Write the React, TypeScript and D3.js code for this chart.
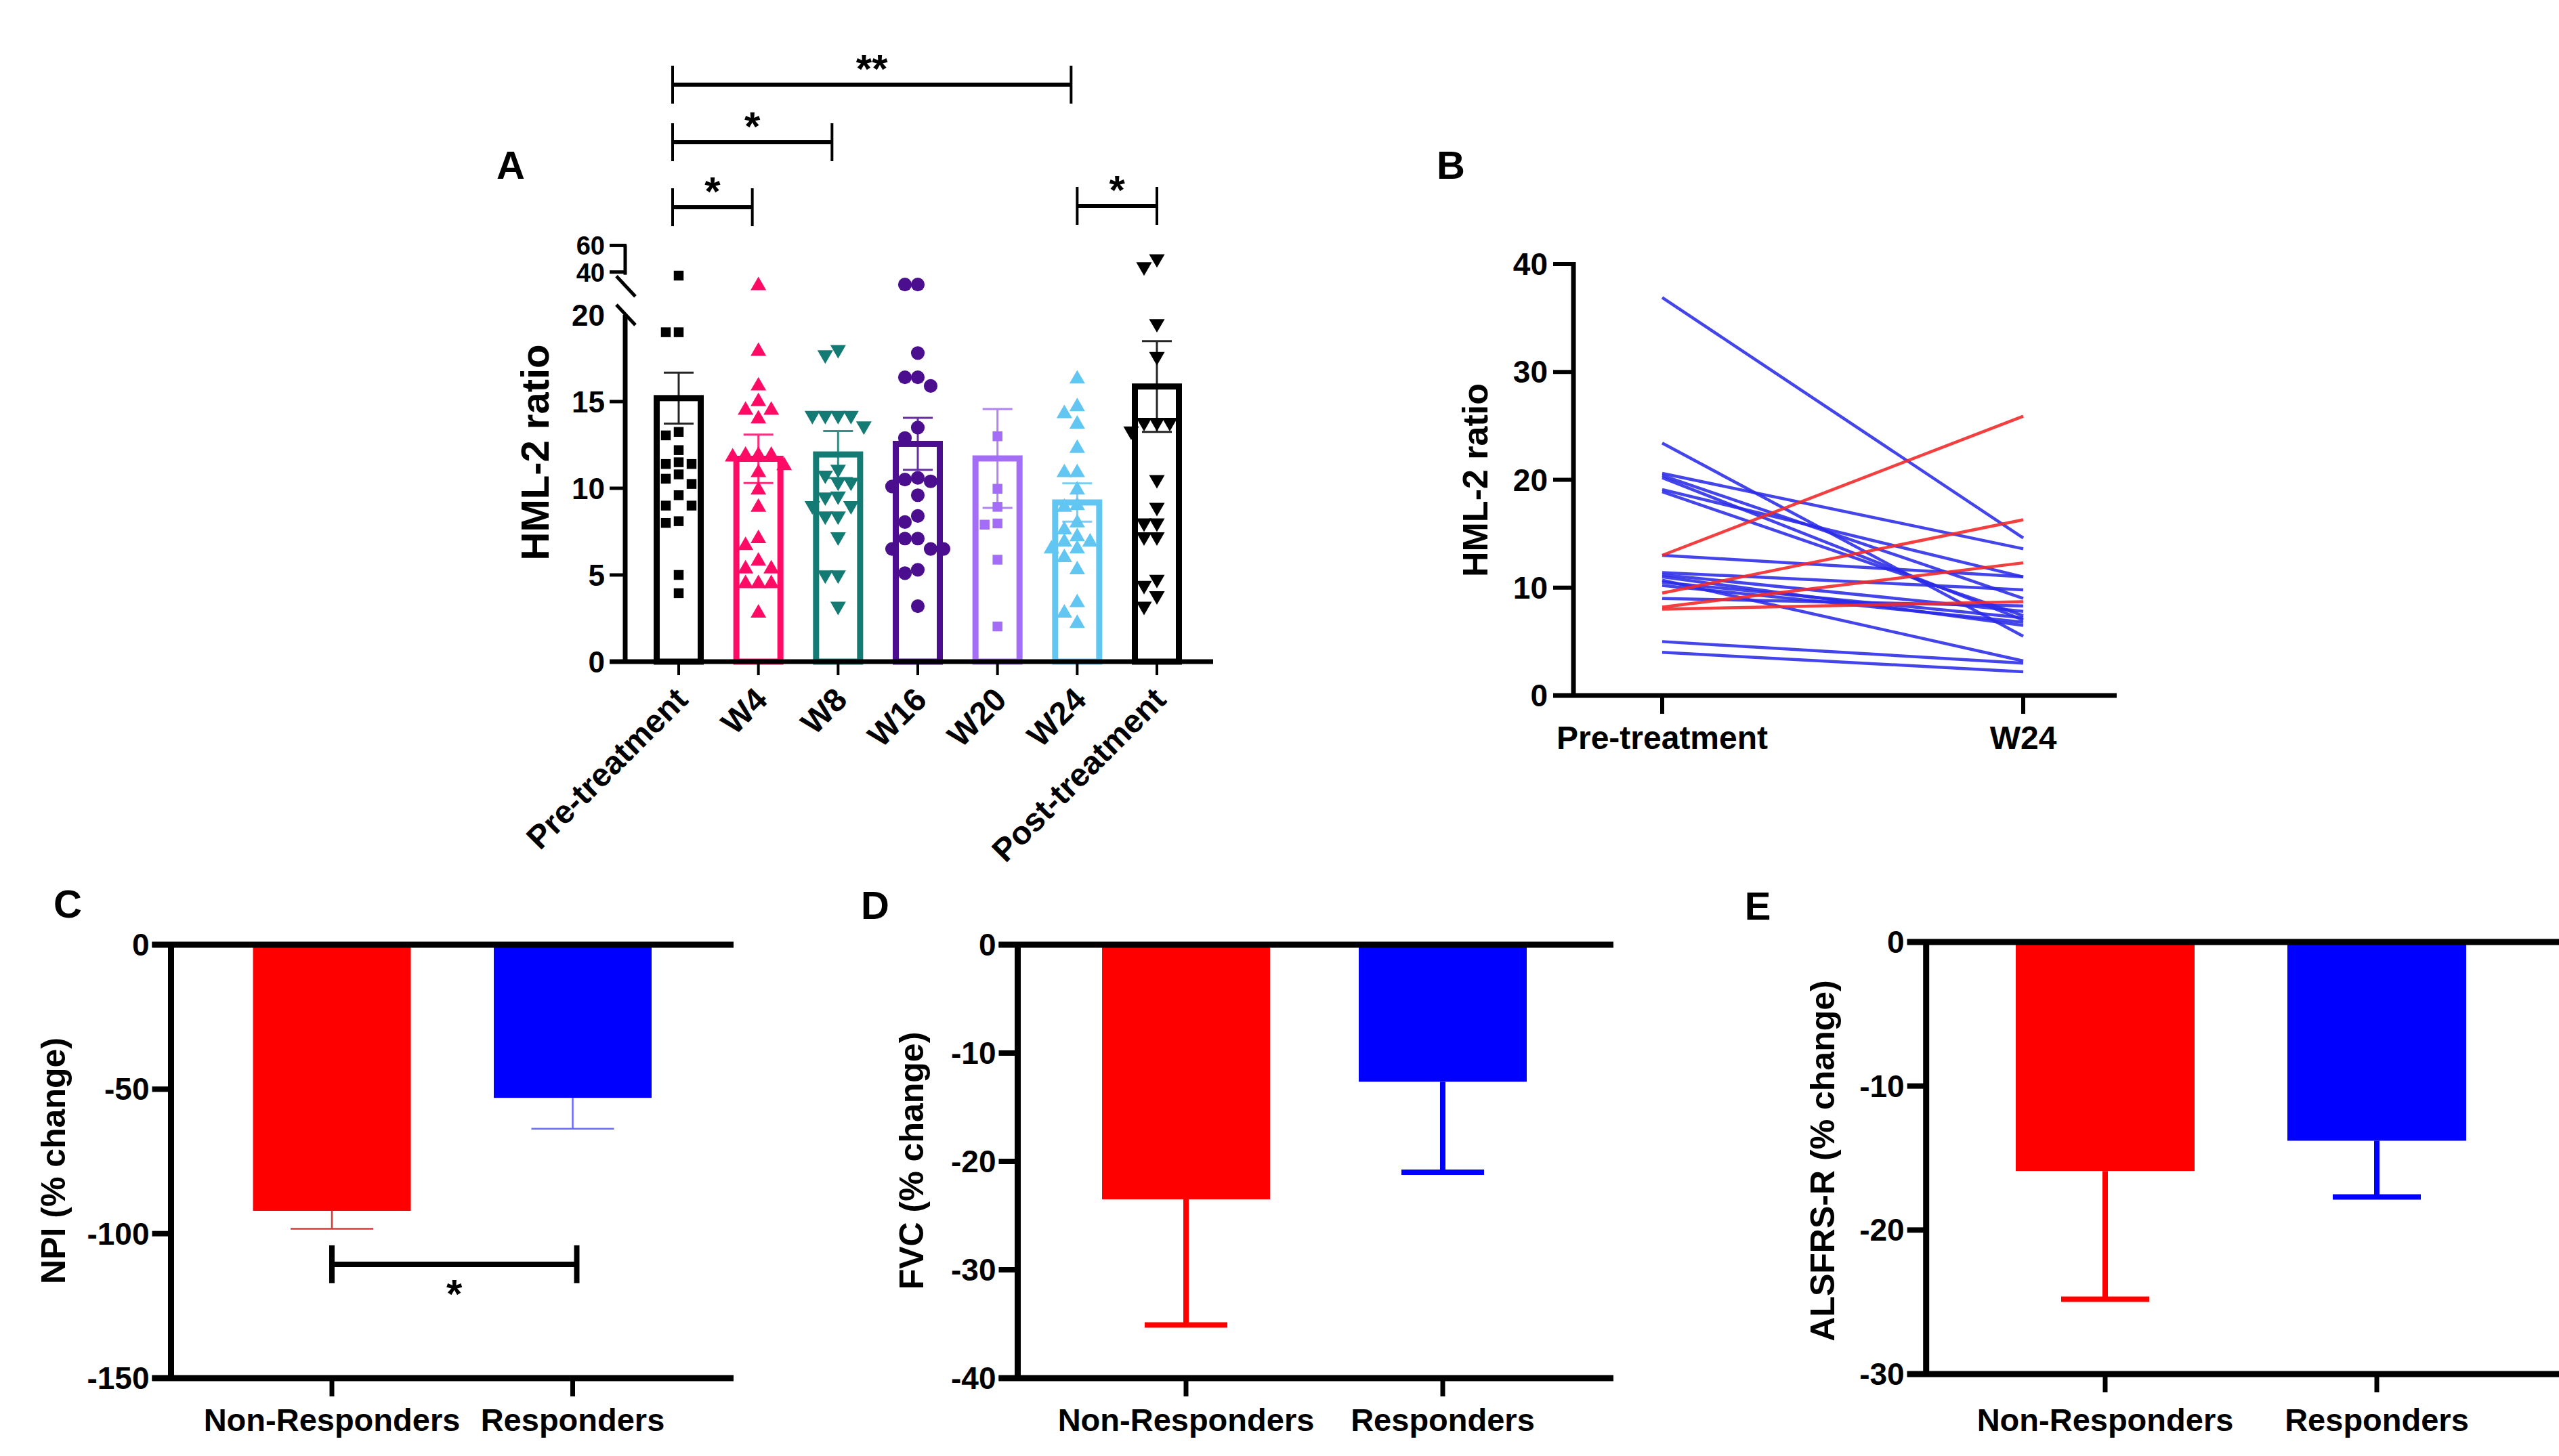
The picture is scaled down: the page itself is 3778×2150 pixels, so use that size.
import React from "react";
import * as d3 from "d3";

const W = 3778;
const H = 2150;
const FONT = "'Liberation Sans', Arial, Helvetica, sans-serif";

// ---------- Panel A data ----------
const groupsA = ["Pre-treatment", "W4", "W8", "W16", "W20", "W24", "Post-treatment"];
const meansA = [15.2, 11.7, 11.95, 12.56, 11.72, 9.18, 15.87];
const semA = [1.47, 1.4, 1.35, 1.5, 2.85, 1.1, 2.62];
const ptsPre = [37.3, 19.0, 19.0, 13.25, 13.05, 12.2, 11.5, 11.4, 11.4, 10.8, 10.55, 10.25, 9.6, 9.0, 9.0, 8.1, 8.0, 5.0, 3.95];
const ptsW4 = [29.8, 17.9, 15.9, 15.0, 14.5, 14.5, 14.0, 11.9, 11.9, 11.8, 11.9, 11.3, 10.9, 9.9, 8.9, 7.1, 6.7, 5.8, 5.35, 5.35, 4.5, 4.5, 4.5, 2.8];
const ptsW8 = [18.0, 17.7, 14.2, 14.2, 14.2, 14.2, 13.6, 11.1, 10.76, 10.35, 10.35, 9.55, 9.5, 9.0, 9.0, 8.4, 8.4, 7.2, 5.0, 5.0, 3.2];
const ptsW16 = [30.6, 30.6, 17.8, 16.4, 16.4, 15.9, 13.5, 12.9, 10.6, 10.5, 10.4, 10.1, 9.6, 8.4, 8.05, 7.1, 7.1, 6.5, 6.5, 6.5, 5.3, 5.1, 3.2];
const ptsW20 = [13.0, 9.97, 8.93, 7.97, 7.9, 5.88, 2.03];
const ptsW24 = [16.3, 14.7, 14.3, 13.7, 12.3, 10.9, 10.9, 9.9, 9.0, 8.9, 8.0, 7.6, 7.2, 6.9, 6.9, 6.5, 6.5, 6.0, 5.3, 3.4, 2.8, 2.2];
const ptsPost = [50, 44, 19.5, 17.6, 13.8, 13.8, 13.8, 13.3, 10.5, 8.9, 8.0, 8.0, 7.2, 7.2, 4.75, 4.4, 3.8, 3.2];
const pointsA = [ptsPre, ptsW4, ptsW8, ptsW16, ptsW20, ptsW24, ptsPost];
const colorsA = ["#000000", "#ff0a64", "#137b73", "#4a0e8f", "#a36ef5", "#62c6f2", "#000000"];
const shapesA = ["square", "triUp", "triDown", "circle", "square", "triUp", "triDown"];
const yTicksALower = [0, 5, 10, 15];
const yTicksAUpper = [40, 60];
const sigA = [
  { a: 0, b: 1, label: "*", level: 0 },
  { a: 0, b: 2, label: "*", level: 1 },
  { a: 0, b: 5, label: "**", level: 2 },
  { a: 5, b: 6, label: "*", level: 0 },
];

// ---------- Panel B data ----------
const timesB = ["Pre-treatment", "W24"];
const bluePre = [36.9, 23.4, 20.6, 20.4, 20.2, 19.1, 18.9, 13.0, 11.4, 11.2, 11.0, 10.7, 10.5, 10.2, 9.0, 5.0, 4.0];
const blueW24 = [14.6, 5.5, 13.6, 9.0, 7.0, 11.0, 7.4, 11.0, 9.8, 7.8, 6.5, 3.2, 7.2, 6.8, 8.3, 3.0, 2.2];
const redPre = [13.0, 9.5, 8.2, 8.0];
const redW24 = [25.9, 16.3, 12.3, 8.7];
const yTicksB = [0, 10, 20, 30, 40];

// ---------- Panels C, D, E data ----------
const groupsCDE = ["Non-Responders", "Responders"];
const npiMean = [-92.1, -53.0];
const npiErr = [-98.3, -63.7];
const fvcMean = [-23.5, -12.65];
const fvcErr = [-35.1, -21.0];
const alsMean = [-15.9, -13.8];
const alsErr = [-24.8, -17.7];
const ticksC = [0, -50, -100, -150];
const ticksD = [0, -10, -20, -30, -40];
const ticksE = [0, -10, -20, -30];
const barColors = ["#ff0000", "#0000ff"];
const errColorsThin = ["#d43a3a", "#6a6aff"];

function symbolPath(shape: string, size: number) {
  const t =
    shape === "square" ? d3.symbolSquare : shape === "circle" ? d3.symbolCircle : d3.symbolTriangle;
  return d3.symbol().type(t).size(size)() as string;
}

function swarm(values: number[], yfn: (v: number) => number, step: number, minDist: number) {
  const items = values.map((v) => ({ v, y: yfn(v), dx: 0 })).sort((a, b) => a.y - b.y);
  const placed: { y: number; dx: number }[] = [];
  for (const it of items) {
    for (let k = 0; k < 14; k++) {
      const m = Math.ceil(k / 2) * (k % 2 === 1 ? -1 : 1);
      const dx = m * step;
      const ok = placed.every((p) => (p.dx - dx) ** 2 + (p.y - it.y) ** 2 >= minDist * minDist);
      if (ok) {
        it.dx = dx;
        break;
      }
    }
    placed.push({ y: it.y, dx: it.dx });
  }
  return items;
}

function PanelA() {
  const x = d3.scalePoint<string>().domain(groupsA).range([1002, 1708]);
  const yL = d3.scaleLinear().domain([0, 20]).range([977, 465]);
  const yU = d3.scaleLinear().domain([20, 60]).range([441, 362.4]);
  const yv = (v: number) => (v <= 20 ? yL(v) : yU(v));
  const axisX = 923;
  const barW = 65;
  const sizes: Record<string, number> = { square: 210, triUp: 230, triDown: 230, circle: 320 };
  const bracketY = [306, 210, 125];
  return (
    <g>
      <text x={754} y={264} fontSize={58} fontWeight="bold" textAnchor="middle" fontFamily={FONT}>A</text>
      {/* bars */}
      {groupsA.map((g, i) => (
        <rect key={g} x={(x(g) as number) - barW / 2} y={yL(meansA[i])} width={barW}
          height={yL(0) - yL(meansA[i])} fill="white" stroke={colorsA[i]} strokeWidth={9} />
      ))}
      {/* error bars */}
      {groupsA.map((g, i) => {
        const cx = x(g) as number;
        const lo = yv(meansA[i] - semA[i]);
        const hi = yv(meansA[i] + semA[i]);
        return (
          <g key={g} stroke={colorsA[i]} strokeWidth={3} opacity={0.85}>
            <line x1={cx} x2={cx} y1={lo} y2={hi} />
            <line x1={cx - 22} x2={cx + 22} y1={hi} y2={hi} />
            <line x1={cx - 22} x2={cx + 22} y1={lo} y2={lo} />
          </g>
        );
      })}
      {/* points */}
      {groupsA.map((g, i) => {
        const cx = x(g) as number;
        const pts = swarm(pointsA[i], yv, 19, 17);
        const p = symbolPath(shapesA[i], sizes[shapesA[i]]);
        return (
          <g key={g} fill={colorsA[i]}>
            {pts.map((pt, j) => (
              <path key={j} d={p}
                transform={`translate(${cx + pt.dx},${pt.y})${shapesA[i] === "triDown" ? " rotate(180)" : ""}`} />
            ))}
          </g>
        );
      })}
      {/* y axis lower */}
      <line x1={axisX} x2={axisX} y1={yL(0) + 3} y2={yL(20)} stroke="black" strokeWidth={7} />
      {yTicksALower.map((t) => (
        <g key={t}>
          <line x1={axisX - 23} x2={axisX} y1={yL(t)} y2={yL(t)} stroke="black" strokeWidth={5} />
          <text x={axisX - 30} y={yL(t) + 16} fontSize={44} fontWeight="bold" textAnchor="end" fontFamily={FONT}>{t}</text>
        </g>
      ))}
      <text x={axisX - 30} y={yL(20) + 16} fontSize={44} fontWeight="bold" textAnchor="end" fontFamily={FONT}>20</text>
      {/* break marks */}
      <line x1={axisX - 13} x2={axisX + 15} y1={yL(20) - 15} y2={yL(20) + 15} stroke="black" strokeWidth={5} />
      <line x1={axisX - 13} x2={axisX + 15} y1={yU(40) + 6} y2={yU(40) + 36} stroke="black" strokeWidth={5} />
      {/* y axis upper */}
      <line x1={axisX} x2={axisX} y1={yU(60)} y2={yU(40) + 4} stroke="black" strokeWidth={5} />
      {yTicksAUpper.map((t) => (
        <g key={t}>
          <line x1={axisX - 23} x2={axisX + 2} y1={yU(t)} y2={yU(t)} stroke="black" strokeWidth={5} />
          <text x={axisX - 30} y={yU(t) + 14} fontSize={38} fontWeight="bold" textAnchor="end" fontFamily={FONT}>{t}</text>
        </g>
      ))}
      {/* x axis */}
      <line x1={axisX - 23} x2={1791} y1={yL(0)} y2={yL(0)} stroke="black" strokeWidth={7} />
      {groupsA.map((g) => (
        <g key={g}>
          <line x1={x(g) as number} x2={x(g) as number} y1={yL(0)} y2={yL(0) + 20} stroke="black" strokeWidth={4} />
          <text transform={`translate(${(x(g) as number) + 16},${1036}) rotate(-45)`} fontSize={48}
            fontWeight="bold" textAnchor="end" fontFamily={FONT}>{g}</text>
        </g>
      ))}
      <text transform={`translate(810,668) rotate(-90)`} fontSize={58} fontWeight="bold" textAnchor="middle" fontFamily={FONT}>HML-2 ratio</text>
      {/* significance */}
      {sigA.map((s, k) => {
        const x1 = (x(groupsA[s.a]) as number) - (s.a === 5 ? 0 : 9);
        const x2 = (x(groupsA[s.b]) as number) - (s.b === 6 ? 0 : 9);
        const yb = bracketY[s.level] - (s.a === 5 ? 2 : 0);
        return (
          <g key={k}>
            <line x1={x1} x2={x2} y1={yb} y2={yb} stroke="black" strokeWidth={6} />
            <line x1={x1} x2={x1} y1={yb - 28} y2={yb + 28} stroke="black" strokeWidth={4} />
            <line x1={x2} x2={x2} y1={yb - 28} y2={yb + 28} stroke="black" strokeWidth={4} />
            <text x={(x1 + x2) / 2} y={yb - 3} fontSize={60} fontWeight="bold" textAnchor="middle" fontFamily={FONT}>{s.label}</text>
          </g>
        );
      })}
    </g>
  );
}

function PanelB() {
  const x = d3.scalePoint<string>().domain(timesB).range([2454, 2987]);
  const y = d3.scaleLinear().domain([0, 40]).range([1027, 390]);
  const axisX = 2323;
  const line = d3.line<number>().x((_, i) => x(timesB[i]) as number).y((v) => y(v));
  return (
    <g>
      <text x={2142} y={264} fontSize={58} fontWeight="bold" textAnchor="middle" fontFamily={FONT}>B</text>
      {bluePre.map((v, i) => (
        <path key={"b" + i} d={line([v, blueW24[i]]) as string} stroke="#2a2ae8" strokeWidth={4.5} fill="none" opacity={0.88} />
      ))}
      {redPre.map((v, i) => (
        <path key={"r" + i} d={line([v, redW24[i]]) as string} stroke="#f22a2a" strokeWidth={4.5} fill="none" opacity={0.9} />
      ))}
      <line x1={axisX} x2={axisX} y1={y(0) + 3} y2={y(40) - 3} stroke="black" strokeWidth={7} />
      {yTicksB.map((t) => (
        <g key={t}>
          <line x1={axisX - 30} x2={axisX} y1={y(t)} y2={y(t)} stroke="black" strokeWidth={6} />
          <text x={axisX - 38} y={y(t) + 16} fontSize={46} fontWeight="bold" textAnchor="end" fontFamily={FONT}>{t}</text>
        </g>
      ))}
      <line x1={axisX - 30} x2={3125} y1={y(0)} y2={y(0)} stroke="black" strokeWidth={7} />
      {timesB.map((tm) => (
        <g key={tm}>
          <line x1={x(tm) as number} x2={x(tm) as number} y1={y(0)} y2={y(0) + 27} stroke="black" strokeWidth={6} />
          <text x={x(tm) as number} y={1106} fontSize={48} fontWeight="bold" textAnchor="middle" fontFamily={FONT}>{tm}</text>
        </g>
      ))}
      <text transform={`translate(2196,709) rotate(-90)`} fontSize={52} fontWeight="bold" textAnchor="middle" fontFamily={FONT}>HML-2 ratio</text>
    </g>
  );
}

type BarPanelProps = {
  label: string; labelX: number; labelY: number;
  axisX: number; right: number; yTop: number; yBot: number; minV: number;
  ticks: number[]; centers: [number, number]; barW: number;
  means: number[]; errs: number[]; errW: number; capW: number; thin: boolean;
  title: string; titleX: number; children?: React.ReactNode;
};

function BarPanel(p: BarPanelProps) {
  const x = d3.scalePoint<string>().domain(groupsCDE).range(p.centers);
  const y = d3.scaleLinear().domain([p.minV, 0]).range([p.yBot, p.yTop]);
  return (
    <g>
      <text x={p.labelX} y={p.labelY} fontSize={58} fontWeight="bold" textAnchor="middle" fontFamily={FONT}>{p.label}</text>
      {groupsCDE.map((g, i) => {
        const cx = x(g) as number;
        return (
          <g key={g}>
            <rect x={cx - p.barW / 2} y={y(0)} width={p.barW} height={y(p.means[i]) - y(0)} fill={barColors[i]} />
            <line x1={cx} x2={cx} y1={y(p.means[i])} y2={y(p.errs[i])}
              stroke={p.thin ? errColorsThin[i] : barColors[i]} strokeWidth={p.errW} />
            <line x1={cx - p.capW / 2} x2={cx + p.capW / 2} y1={y(p.errs[i])} y2={y(p.errs[i])}
              stroke={p.thin ? errColorsThin[i] : barColors[i]} strokeWidth={p.errW} />
          </g>
        );
      })}
      <line x1={p.axisX} x2={p.axisX} y1={y(0) - 4} y2={y(p.minV) + 4} stroke="black" strokeWidth={9} />
      <line x1={p.axisX - 28} x2={p.right} y1={y(0)} y2={y(0)} stroke="black" strokeWidth={9} />
      <line x1={p.axisX - 28} x2={p.right} y1={y(p.minV)} y2={y(p.minV)} stroke="black" strokeWidth={9} />
      {p.ticks.map((t) => (
        <g key={t}>
          <line x1={p.axisX - 28} x2={p.axisX} y1={y(t)} y2={y(t)} stroke="black" strokeWidth={8} />
          <text x={p.axisX - 32} y={y(t) + 16} fontSize={46} fontWeight="bold" textAnchor="end" fontFamily={FONT}>{t}</text>
        </g>
      ))}
      {groupsCDE.map((g) => (
        <g key={g}>
          <line x1={x(g) as number} x2={x(g) as number} y1={y(p.minV)} y2={y(p.minV) + 27} stroke="black" strokeWidth={7} />
          <text x={x(g) as number} y={2113} fontSize={47} fontWeight="bold" textAnchor="middle" fontFamily={FONT}>{g}</text>
        </g>
      ))}
      <text transform={`translate(${p.titleX},1714) rotate(-90)`} fontSize={50} fontWeight="bold" textAnchor="middle" fontFamily={FONT}>{p.title}</text>
      {p.children}
    </g>
  );
}

function SigC() {
  const x = d3.scalePoint<string>().domain(groupsCDE).range([490, 845.5]);
  const y = d3.scaleLinear().domain([-150, 0]).range([2035, 1395]);
  const yb = y(-110.6);
  const x1 = x(groupsCDE[0]) as number;
  const x2 = (x(groupsCDE[1]) as number) + 6;
  return (
    <g>
      <line x1={x1} x2={x2} y1={yb} y2={yb} stroke="black" strokeWidth={8} />
      <line x1={x1} x2={x1} y1={yb - 28} y2={yb + 28} stroke="black" strokeWidth={8} />
      <line x1={x2} x2={x2} y1={yb - 28} y2={yb + 28} stroke="black" strokeWidth={8} />
      <text x={(x1 + x2) / 2} y={yb + 64} fontSize={60} fontWeight="bold" textAnchor="middle" fontFamily={FONT}>*</text>
    </g>
  );
}

export default function App() {
  return (
    <svg width={W} height={H} viewBox={`0 0 ${W} ${H}`} style={{ position: "absolute", left: 0, top: 0, background: "white" }}>
      <rect x={0} y={0} width={W} height={H} fill="white" />
      <PanelA />
      <PanelB />
      <BarPanel label="C" labelX={100} labelY={1355} axisX={252.5} right={1083} yTop={1395} yBot={2035} minV={-150}
        ticks={ticksC} centers={[490, 845.5]} barW={233} means={npiMean} errs={npiErr} errW={2.5} capW={122} thin={true}
        title="NPI (% change)" titleX={96}>
        <SigC />
      </BarPanel>
      <BarPanel label="D" labelX={1292} labelY={1357} axisX={1502.5} right={2382} yTop={1395} yBot={2035} minV={-40}
        ticks={ticksD} centers={[1751, 2130]} barW={248} means={fvcMean} errs={fvcErr} errW={8} capW={122} thin={false}
        title="FVC (% change)" titleX={1363} />
      <BarPanel label="E" labelX={2595} labelY={1358} axisX={2843.7} right={3790} yTop={1391} yBot={2029} minV={-30}
        ticks={ticksE} centers={[3108, 3509]} barW={264} means={alsMean} errs={alsErr} errW={8} capW={130} thin={false}
        title="ALSFRS-R (% change)" titleX={2708} />
    </svg>
  );
}
